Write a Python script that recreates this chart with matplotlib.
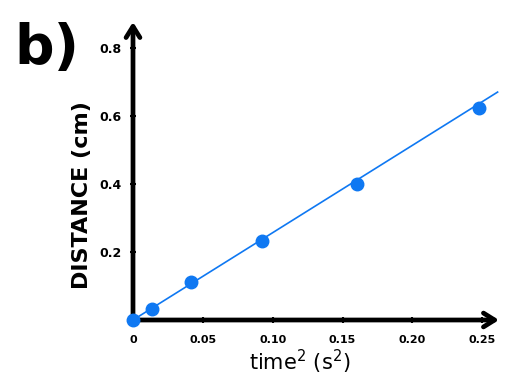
import numpy as np
import matplotlib
matplotlib.use("Agg")
import matplotlib.pyplot as plt

# time squared (s^2) and distance (cm)
time_sq = [0.0, 0.0136, 0.0415, 0.092, 0.160, 0.248]
distance = [0.0, 0.032, 0.112, 0.232, 0.400, 0.624]
fit_x = [0.0, 0.261]
fit_y = [0.0, 0.670]

xticks = [0, 0.05, 0.10, 0.15, 0.20, 0.25]
xticklabels = ["0", "0.05", "0.10", "0.15", "0.20", "0.25"]
yticks = [0.2, 0.4, 0.6, 0.8]
yticklabels = ["0.2", "0.4", "0.6", "0.8"]

blue = "#0f78f2"
plt.rcParams['font.family'] = ['DejaVu Sans']

fig = plt.figure(figsize=(5.05, 3.82), dpi=100)
W, H = 505, 382
ax = fig.add_axes([133 / W, 62 / H, 366 / W, 298 / H])
ax.set_xlim(0, 0.262)
ax.set_ylim(0, 0.876)

for s in ax.spines.values():
    s.set_visible(False)

# axis arrows
ax.annotate("", xy=(1.0, 0), xytext=(0, 0), xycoords="axes fraction",
            arrowprops=dict(arrowstyle="->,head_length=0.8,head_width=0.5",
                            lw=3.4, color="black", shrinkA=0, shrinkB=0))
ax.annotate("", xy=(0, 1.0), xytext=(0, 0), xycoords="axes fraction",
            arrowprops=dict(arrowstyle="->,head_length=0.8,head_width=0.5",
                            lw=3.4, color="black", shrinkA=0, shrinkB=0))

ax.plot(fit_x, fit_y, color=blue, lw=1.2, clip_on=False, zorder=3)
ax.plot(time_sq, distance, "o", color=blue, ms=9, clip_on=False, zorder=4)

ax.set_xticks(xticks)
ax.set_xticklabels(xticklabels, fontsize=8, fontweight="bold")
ax.set_yticks(yticks)
ax.set_yticklabels(yticklabels, fontsize=9, fontweight="bold")
ax.tick_params(axis="both", length=4, width=1.5, direction="inout", pad=6)
ax.tick_params(axis="x", pad=9)

fig.text(300 / W, 1 - 362 / H, "time$^2$ (s$^2$)", fontsize=15,
         ha="center", va="center")
fig.text(82 / W, 1 - 195 / H, "DISTANCE (cm)", fontsize=16, fontweight="bold",
         rotation=90, ha="center", va="center")

fig.text(14 / W, 1 - 64 / H, "b)", fontsize=40, fontweight="semibold",
         ha="left", va="baseline")

fig.savefig("out.png", dpi=100)
